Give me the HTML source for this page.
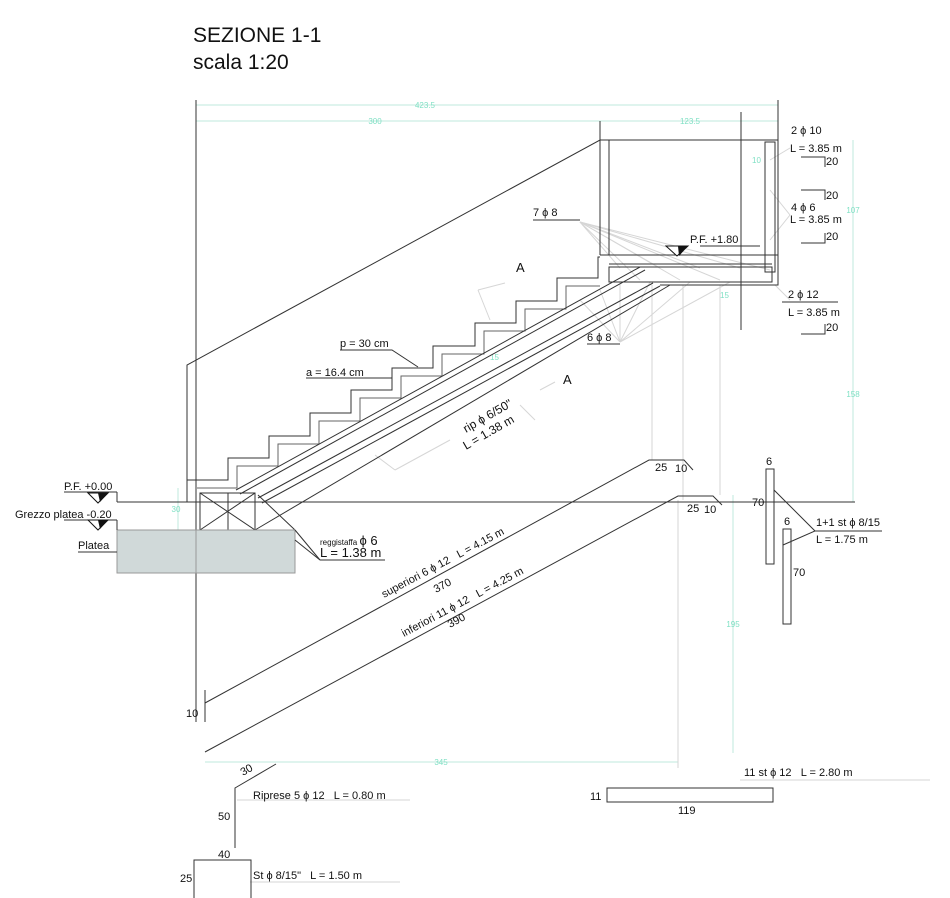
<!DOCTYPE html>
<html><head><meta charset="utf-8"><style>
html,body{margin:0;padding:0;background:#fff;}
svg{display:block;font-family:"Liberation Sans",sans-serif;}
svg text{white-space:pre;}
</style></head><body>
<svg width="950" height="898" viewBox="0 0 950 898" xmlns="http://www.w3.org/2000/svg" xml:space="preserve">
<rect width="950" height="898" fill="#fff"/>
<text x="193" y="42" font-size="21" fill="#111">SEZIONE 1-1</text>
<text x="193" y="69" font-size="21" fill="#111">scala 1:20</text>

<g stroke="#bfe8dc" stroke-width="1" fill="none">
<line x1="196" y1="105" x2="778" y2="105"/>
<line x1="196" y1="121" x2="778" y2="121"/>
<line x1="853" y1="140" x2="853" y2="502"/>
<line x1="733" y1="495" x2="733" y2="753"/>
<line x1="205" y1="762" x2="678" y2="762"/>
<line x1="178" y1="488" x2="178" y2="530"/>
</g>
<g font-size="8" fill="#7fe0c4">
<text x="425" y="108" text-anchor="middle">423.5</text>
<text x="375" y="124" text-anchor="middle">300</text>
<text x="690" y="124" text-anchor="middle">123.5</text>
<text x="853" y="213" text-anchor="middle">107</text>
<text x="853" y="397" text-anchor="middle">158</text>
<text x="733" y="627" text-anchor="middle">195</text>
<text x="441" y="765" text-anchor="middle">345</text>
<text x="176" y="512" text-anchor="middle">30</text>
<text x="752" y="163">10</text>
<text x="720" y="298">15</text>
<text x="490" y="360">15</text>
</g>

<g stroke="#d6d6d6" stroke-width="1" fill="none">
<line x1="652" y1="285" x2="652" y2="460"/>
<line x1="683" y1="285" x2="683" y2="500"/>
<line x1="678" y1="500" x2="678" y2="768"/>
<line x1="720" y1="285" x2="720" y2="495"/>
<line x1="580" y1="222" x2="620" y2="268"/><line x1="580" y1="222" x2="660" y2="268"/>
<line x1="580" y1="222" x2="700" y2="268"/><line x1="580" y1="222" x2="740" y2="268"/>
<line x1="580" y1="222" x2="770" y2="270"/><line x1="580" y1="222" x2="640" y2="280"/>
<line x1="580" y1="222" x2="680" y2="280"/><line x1="580" y1="222" x2="720" y2="280"/>
<line x1="620" y1="342" x2="620" y2="282"/><line x1="620" y1="342" x2="650" y2="282"/>
<line x1="620" y1="342" x2="690" y2="282"/><line x1="620" y1="342" x2="730" y2="282"/>
<line x1="620" y1="342" x2="600" y2="290"/><line x1="620" y1="342" x2="580" y2="300"/>
<line x1="478" y1="290" x2="505" y2="283"/><line x1="478" y1="290" x2="490" y2="320"/>
<line x1="375" y1="455" x2="395" y2="470"/><line x1="395" y1="470" x2="450" y2="440"/>
<line x1="540" y1="390" x2="555" y2="382"/><line x1="520" y1="405" x2="535" y2="420"/>
<line x1="740" y1="780" x2="930" y2="780"/>
<line x1="237" y1="800" x2="410" y2="800"/>
<line x1="250" y1="882" x2="400" y2="882"/>
<line x1="770" y1="160" x2="790" y2="148"/><line x1="770" y1="190" x2="790" y2="215"/>
<line x1="770" y1="240" x2="790" y2="215"/><line x1="775" y1="285" x2="790" y2="300"/>
</g>

<g stroke="#333" stroke-width="1" fill="none">
<line x1="196" y1="100" x2="196" y2="722"/>
<line x1="778" y1="100" x2="778" y2="285"/>
<line x1="600" y1="121" x2="600" y2="140"/>
<line x1="741" y1="112" x2="741" y2="330"/>
<polyline points="187,502 187,365 600,140 778,140"/>
<line x1="600" y1="140" x2="600" y2="255"/>
<line x1="609" y1="140" x2="609" y2="255"/>
<rect x="765" y="142" width="10" height="130"/>
<polyline points="600,255 778,255 778,285 660,285"/>
<line x1="609" y1="264" x2="772" y2="264"/>
<rect x="609" y="267" width="163" height="15"/>
<polyline points="187,480 228,480 228,458 269,458 269,436 310,436 310,413 351,413 351,390 392,390 392,368 433,368 433,346 475,346 475,323 516,323 516,301 557,301 557,278 598,278 598,257 600,257"/>
<polyline stroke="#666" points="197,488 237,488 237,466 278,466 278,444 319,444 319,421 360,421 360,398 401,398 401,376 442,376 442,354 484,354 484,331 525,331 525,309 566,309 566,286 600,286"/>
<line x1="236" y1="490" x2="640" y2="267"/>
<line x1="240" y1="494" x2="645" y2="270"/>
<line x1="258" y1="498" x2="653" y2="283"/>
<line x1="262" y1="503" x2="660" y2="286"/>
<line x1="255" y1="530" x2="670" y2="285"/>
<line x1="117" y1="502" x2="855" y2="502"/>
<rect x="200" y="493" width="55" height="37"/>
<line x1="200" y1="493" x2="255" y2="530"/><line x1="200" y1="530" x2="255" y2="493"/>
<line x1="228" y1="493" x2="228" y2="530"/>
<line x1="258" y1="495" x2="295" y2="530"/>
</g>
<rect x="117" y="530" width="178" height="43" fill="#d0d9d9" stroke="#999"/>
<line x1="196" y1="530" x2="196" y2="573" stroke="#999"/>

<g font-size="11" fill="#111">
<text x="64" y="490">P.F. +0.00</text>
<text x="15" y="518">Grezzo platea -0.20</text>
<text x="78" y="549">Platea</text>
</g>
<g stroke="#333" fill="none">
<line x1="64" y1="492" x2="117" y2="492"/><line x1="64" y1="520" x2="117" y2="520"/><line x1="78" y1="552" x2="117" y2="552"/>
<line x1="117" y1="492" x2="117" y2="502"/><line x1="117" y1="520" x2="117" y2="530"/>
</g>
<polygon points="88,493 108,493 98,503" fill="#fff" stroke="#111"/><polygon points="98,493 108,493 100,502" fill="#111"/>
<polygon points="88,520 108,520 98,530" fill="#fff" stroke="#111"/><polygon points="98,520 108,520 100,529" fill="#111"/>

<g stroke="#333" fill="none">
<line x1="295" y1="530" x2="320" y2="560"/><line x1="295" y1="540" x2="320" y2="560"/><line x1="320" y1="560" x2="385" y2="560"/>
</g>
<text x="320" y="545" font-size="8" fill="#111">reggistaffa <tspan font-size="13">ϕ 6</tspan></text>
<text x="320" y="557" font-size="13" fill="#111">L = 1.38 m</text>

<g stroke="#333" fill="none">
<polyline points="340,350 392,350 418,367"/>
<line x1="306" y1="378" x2="392" y2="378"/>
<line x1="533" y1="220" x2="580" y2="220"/>
<line x1="587" y1="344" x2="620" y2="344"/>
<line x1="700" y1="246" x2="760" y2="246"/>
</g>
<g font-size="11" fill="#111">
<text x="340" y="347">p = 30 cm</text>
<text x="306" y="376">a = 16.4 cm</text>
<text x="533" y="216">7 ϕ 8</text>
<text x="587" y="341">6 ϕ 8</text>
<text x="690" y="243">P.F. +1.80</text>
<text x="516" y="272" font-size="13">A</text>
<text x="563" y="384" font-size="13">A</text>
<text transform="translate(466,433) rotate(-30)" font-size="12">rip ϕ 6/50"</text>
<text transform="translate(466,450) rotate(-30)" font-size="12">L = 1.38 m</text>
</g>
<polygon points="666,246 688,246 677,256" fill="#fff" stroke="#111"/><polygon points="678,246 688,246 679,256" fill="#111"/>

<g stroke="#333" fill="none">
<polyline points="205,703 649,460 684,460 693,470"/>
<polyline points="205,752 678,496 713,496 722,505"/>
<line x1="205" y1="690" x2="205" y2="722"/>
</g>
<g font-size="11" fill="#111">
<text x="655" y="471">25</text><text x="675" y="472">10</text>
<text x="687" y="512">25</text><text x="704" y="513">10</text>
<text x="186" y="717">10</text>
<text transform="translate(384,598) rotate(-28)">superiori 6 ϕ 12   L = 4.15 m</text>
<text transform="translate(436,593) rotate(-28)">370</text>
<text transform="translate(404,637) rotate(-28)">inferiori 11 ϕ 12   L = 4.25 m</text>
<text transform="translate(450,628) rotate(-28)">390</text>
</g>

<g stroke="#333" fill="none">
<rect x="766" y="469" width="8" height="95"/>
<rect x="783" y="529" width="8" height="95"/>
<polyline points="774,490 815,531 783,545"/>
<line x1="815" y1="531" x2="882" y2="531"/>
</g>
<g font-size="11" fill="#111">
<text x="766" y="465">6</text><text x="752" y="506">70</text>
<text x="784" y="525">6</text><text x="793" y="576">70</text>
<text x="816" y="526">1+1 st ϕ 8/15</text>
<text x="816" y="543">L = 1.75 m</text>
</g>

<g font-size="11" fill="#111">
<text x="791" y="134">2 ϕ 10</text><text x="790" y="152">L = 3.85 m</text><text x="826" y="165">20</text>
<text x="826" y="199">20</text><text x="791" y="211">4 ϕ 6</text><text x="790" y="223">L = 3.85 m</text><text x="826" y="240">20</text>
<text x="788" y="298">2 ϕ 12</text><text x="788" y="316">L = 3.85 m</text><text x="826" y="331">20</text>
</g>
<g stroke="#333" fill="none">
<polyline points="801,157 825,157 825,167"/>
<polyline points="801,190 825,190 825,200"/>
<polyline points="801,243 825,243 825,233"/>
<polyline points="801,334 825,334 825,324"/>
<line x1="782" y1="302" x2="838" y2="302"/>
</g>

<rect x="607" y="788" width="166" height="14" fill="none" stroke="#333"/>
<g font-size="11" fill="#111">
<text x="744" y="776">11 st ϕ 12   L = 2.80 m</text>
<text x="590" y="800">11</text><text x="678" y="814">119</text>
</g>

<g stroke="#333" fill="none">
<polyline points="276,764 235,788 235,848"/>
<polyline points="194,898 194,860 251,860 251,898"/>
</g>
<g font-size="11" fill="#111">
<text transform="translate(243,776) rotate(-30)">30</text>
<text x="253" y="799">Riprese 5 ϕ 12   L = 0.80 m</text>
<text x="218" y="820">50</text>
<text x="218" y="858">40</text>
<text x="180" y="882">25</text>
<text x="253" y="879">St ϕ 8/15"   L = 1.50 m</text>
</g>
</svg>
</body></html>
